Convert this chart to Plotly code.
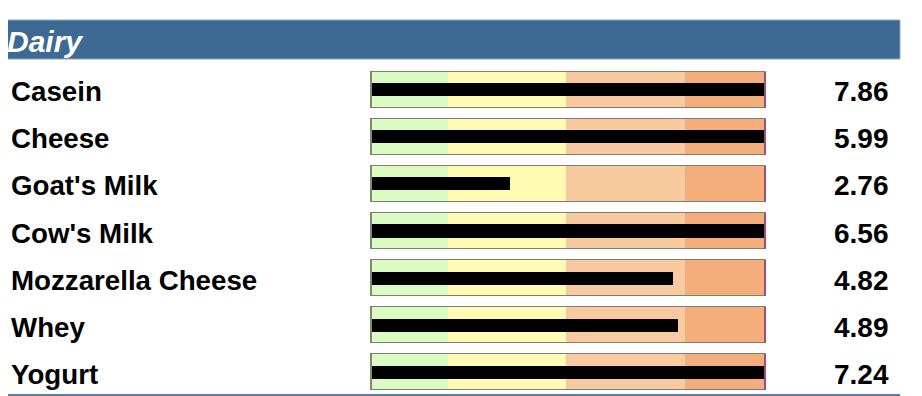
import plotly.graph_objects as go

# ---- data ----
title_text = "Dairy"
foods = ["Casein", "Cheese", "Goat's Milk", "Cow's Milk", "Mozzarella Cheese", "Whey", "Yogurt"]
scores = [7.86, 5.99, 2.76, 6.56, 4.82, 4.89, 7.24]
# bar extent on the bullet's 0-100 track scale
bar_extent = [99.6, 99.6, 35.4, 99.6, 76.4, 77.9, 99.6]
# qualitative band edges on the 0-100 track scale
band_edges = [0, 19.7, 49.5, 79.5, 100]
band_colors = ["#dafcc2", "#fffbb3", "#f7cb9f", "#f3ae7b"]

OFF = 8  # page body margin
W, H = 922 - OFF, 396 - OFF
# layout in page pixels
TRACK_L, TRACK_R = 370, 766
TOP, BOT = 66, 396
L = TRACK_L - OFF
R = W - (TRACK_R - OFF)
T = TOP - OFF
B = H - (BOT - OFF)
PW, PH = W - L - R, H - T - B

def px_x(px):
    return (px - OFF - L) / PW

def px_y(py):
    return (H - B - (py - OFF)) / PH

ys = list(range(len(foods)))
band_w = 0.764
bar_w = 0.276

fig = go.Figure()
for i, c in enumerate(band_colors):
    fig.add_trace(go.Bar(
        y=ys, x=[band_edges[i + 1] - band_edges[i]] * len(ys),
        base=[band_edges[i]] * len(ys), orientation="h", width=band_w,
        marker=dict(color=c, line=dict(width=0)), hoverinfo="skip", showlegend=False))
# outline of the track
fig.add_trace(go.Bar(
    y=ys, x=[band_edges[-1]] * len(ys), base=[0] * len(ys), orientation="h", width=band_w,
    marker=dict(color="rgba(0,0,0,0)", line=dict(width=1, color="#7e7e74")),
    hoverinfo="skip", showlegend=False))
# left and right edge ticks
fig.add_trace(go.Bar(
    y=ys, x=[0.6] * len(ys), base=[0] * len(ys), orientation="h", width=band_w,
    marker=dict(color="#7d8c6c", line=dict(width=0)), hoverinfo="skip", showlegend=False))
fig.add_trace(go.Bar(
    y=ys, x=[0.6] * len(ys), base=[band_edges[-1] - 0.6] * len(ys), orientation="h", width=band_w,
    marker=dict(color="#9c4f7a", line=dict(width=0)), hoverinfo="skip", showlegend=False))
# measure bars
fig.add_trace(go.Bar(
    y=ys, x=[v - 0.5 for v in bar_extent], base=[0.5] * len(ys), orientation="h", width=bar_w,
    marker=dict(color="#000000", line=dict(width=0)), hoverinfo="skip", showlegend=False))

annotations = []
for y, name, s in zip(ys, foods, scores):
    annotations.append(dict(x=px_x(9), xref="paper", y=y, yref="y", text=name, showarrow=False,
                            xanchor="left", yanchor="middle", yshift=-2,
                            font=dict(family="Liberation Sans", size=27.7, color="#000000", weight="bold")))
    annotations.append(dict(x=px_x(891), xref="paper", y=y, yref="y", text=f"{s:.2f}", showarrow=False,
                            xanchor="right", yanchor="middle", yshift=-2,
                            font=dict(family="Liberation Sans", size=28, color="#000000", weight="bold")))
annotations.append(dict(x=px_x(5), xref="paper", y=px_y(41), yref="paper", text=title_text,
                        showarrow=False, xanchor="left", yanchor="middle",
                        font=dict(family="Liberation Sans", size=30, color="#ffffff",
                                  weight="bold", style="italic")))

shapes = [
    dict(type="rect", xref="paper", yref="paper", x0=px_x(5), x1=px_x(900), y0=px_y(59), y1=px_y(20),
         fillcolor="#3d6a92", line=dict(color="#8aa6c2", width=1), layer="below"),
    dict(type="line", xref="paper", yref="paper", x0=px_x(5), x1=px_x(900), y0=px_y(395), y1=px_y(395),
         line=dict(color="#5a7ea2", width=2)),
]

fig.update_layout(
    width=W, height=H, margin=dict(l=L, r=R, t=T, b=B),
    paper_bgcolor="#ffffff", plot_bgcolor="#ffffff",
    barmode="overlay", bargap=0,
    xaxis=dict(range=[0, 100], visible=False, fixedrange=True),
    yaxis=dict(range=[len(foods) - 0.5, -0.5], visible=False, fixedrange=True),
    annotations=annotations, shapes=shapes, showlegend=False,
)

fig.write_html("out.html")
